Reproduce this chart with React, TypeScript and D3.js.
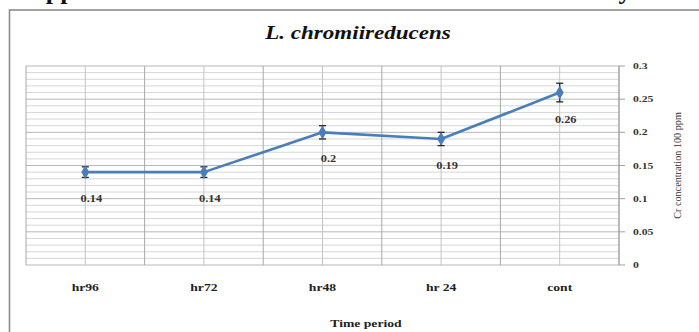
import React from "react";
import * as d3 from "d3";

const categories = ["hr96", "hr72", "hr48", "hr 24", "cont"];
const values = [0.14, 0.14, 0.2, 0.19, 0.26];
const errors = [0.008, 0.008, 0.01, 0.01, 0.014];
const valueLabels = ["0.14", "0.14", "0.2", "0.19", "0.26"];
const yTicks = [0, 0.05, 0.1, 0.15, 0.2, 0.25, 0.3];
const yTickLabels = ["0", "0.05", "0.1", "0.15", "0.2", "0.25", "0.3"];

const W = 699;
const H = 332;
const plot = { left: 26, right: 619, top: 66, bottom: 265 };
const serif = "'Liberation Serif', 'DejaVu Serif', serif";
const blue = "#4a7ebb";

// Text drawn with a slight horizontal stretch, as in the exported figure.
function T(props: {
  x: number;
  y: number;
  sx?: number;
  size: number;
  anchor?: "start" | "middle" | "end";
  bold?: boolean;
  italic?: boolean;
  fill?: string;
  children: React.ReactNode;
}) {
  const { x, y, sx = 1.3, size, anchor = "middle", bold = true, italic = false, fill = "#222" } = props;
  return (
    <text
      transform={`translate(${x}, ${y}) scale(${sx}, 1)`}
      textAnchor={anchor}
      fontFamily={serif}
      fontSize={size}
      fontWeight={bold ? "bold" : "normal"}
      fontStyle={italic ? "italic" : "normal"}
      fill={fill}
    >
      {props.children}
    </text>
  );
}

export default function App() {
  const x = d3
    .scaleBand<string>()
    .domain(categories)
    .range([plot.left, plot.right])
    .padding(0);
  const y = d3.scaleLinear().domain([0, 0.3]).range([plot.bottom, plot.top]);
  const bw = x.bandwidth();
  const cx = (c: string) => (x(c) as number) + bw / 2;

  const minor = d3.range(0, 0.3001, 0.01);
  const vLines: { pos: number; major: boolean }[] = [];
  categories.forEach((c) => {
    vLines.push({ pos: x(c) as number, major: true });
    vLines.push({ pos: cx(c), major: false });
  });
  vLines.push({ pos: plot.right, major: true });

  const line = d3
    .line<number>()
    .x((_, i) => cx(categories[i]))
    .y((d) => y(d));

  const diamond = d3.symbol().type(d3.symbolDiamond).size(55)();

  return (
    <svg
      width={W}
      height={H}
      style={{ position: "absolute", left: 0, top: 0, background: "#fff" }}
    >
      {/* page text running above the frame */}
      <text x={27} y={-1} fontFamily={serif} fontSize={26} fontWeight="bold" fill="#111">
        Appendix
      </text>
      <text x={604} y={-1} fontFamily={serif} fontSize={26} fontWeight="bold" fill="#111">
        by
      </text>

      {/* chart frame */}
      <rect x={9.5} y={10} width={W + 10} height={H + 10} fill="#fff" stroke="#8c8c8c" strokeWidth={1.6} />

      {/* title */}
      <T x={358} y={39} size={18} sx={1.28} italic fill="#111">
        L. chromiireducens
      </T>

      {/* horizontal gridlines */}
      {minor.map((v, i) => (
        <line
          key={"h" + i}
          x1={plot.left}
          x2={plot.right}
          y1={y(v)}
          y2={y(v)}
          stroke={i % 5 === 0 ? "#b8b8b8" : "#d6d6d6"}
          strokeWidth={1}
        />
      ))}

      {/* vertical gridlines */}
      {vLines.map((l, i) => (
        <line
          key={"v" + i}
          x1={l.pos}
          x2={l.pos}
          y1={plot.top}
          y2={plot.bottom}
          stroke={l.major ? "#a8a8a8" : "#c4c4c4"}
          strokeWidth={1}
        />
      ))}

      {/* right value axis */}
      <line x1={plot.right} x2={plot.right} y1={plot.top} y2={plot.bottom} stroke="#a0a0a0" />
      {yTicks.map((t, i) => (
        <g key={"t" + i}>
          <line x1={plot.right} x2={plot.right + 6} y1={y(t)} y2={y(t)} stroke="#a0a0a0" />
          <T x={plot.right + 14} y={y(t) + 3} size={9} anchor="start" fill="#333">
            {yTickLabels[i]}
          </T>
        </g>
      ))}
      <text
        transform={`translate(681, ${(plot.top + plot.bottom) / 2}) rotate(-90)`}
        textAnchor="middle"
        fontFamily={serif}
        fontSize={10.2}
        fill="#333"
      >
        Cr concentration 100 ppm
      </text>

      {/* category labels */}
      {categories.map((c) => (
        <T key={"c" + c} x={cx(c)} y={291} size={10.5}>
          {c}
        </T>
      ))}
      <T x={366} y={327} size={10.5}>
        Time period
      </T>

      {/* series line */}
      <path d={line(values) || ""} fill="none" stroke={blue} strokeWidth={2.6} strokeLinejoin="round" />

      {/* error bars */}
      {values.map((v, i) => {
        const px = cx(categories[i]);
        const y1 = y(v + errors[i]);
        const y2 = y(v - errors[i]);
        return (
          <g key={"e" + i} stroke="#222" strokeWidth={1.3}>
            <line x1={px} x2={px} y1={y1} y2={y2} />
            <line x1={px - 3.5} x2={px + 3.5} y1={y1} y2={y1} />
            <line x1={px - 3.5} x2={px + 3.5} y1={y2} y2={y2} />
          </g>
        );
      })}

      {/* markers */}
      {values.map((v, i) => (
        <path
          key={"m" + i}
          d={diamond || ""}
          transform={`translate(${cx(categories[i])}, ${y(v)})`}
          fill={blue}
        />
      ))}

      {/* data labels */}
      {values.map((v, i) => (
        <T key={"l" + i} x={cx(categories[i]) + 6} y={y(v) + 30} size={9.5} fill="#333">
          {valueLabels[i]}
        </T>
      ))}
    </svg>
  );
}
